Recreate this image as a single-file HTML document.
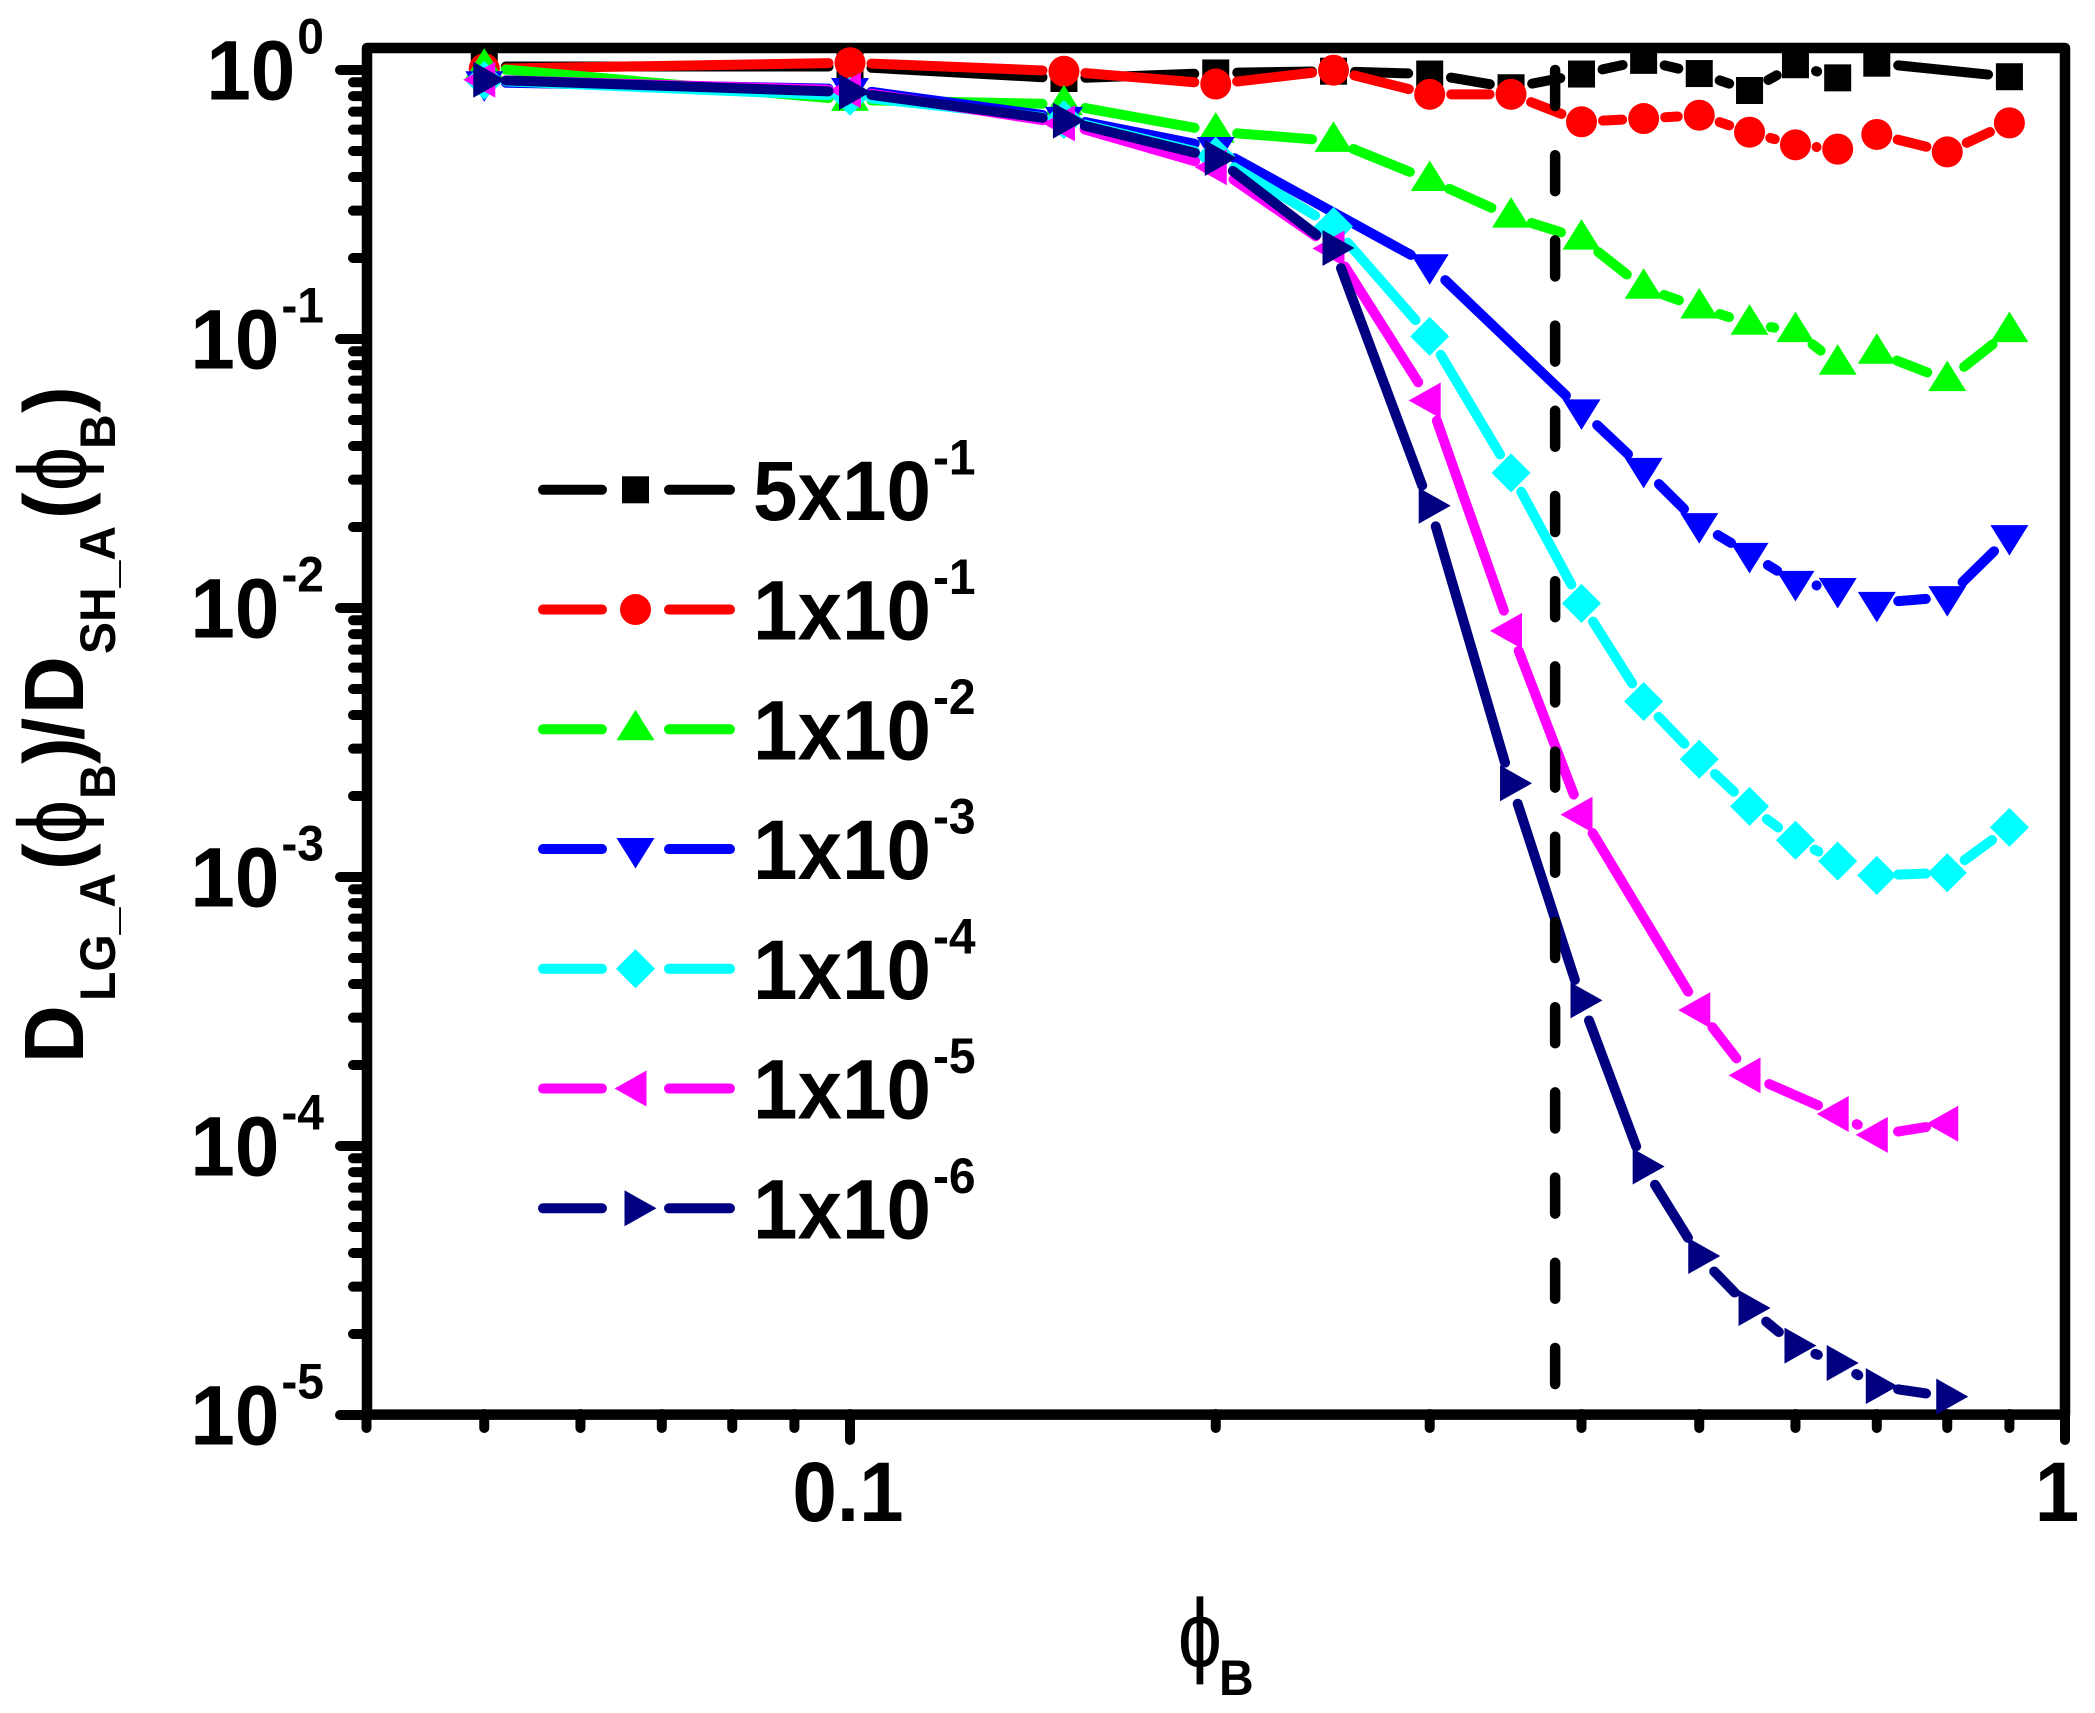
<!DOCTYPE html>
<html lang="en">
<head>
<meta charset="utf-8">
<title>Diffusion ratio versus phi B</title>
<style>
html,body{margin:0;padding:0;background:#fff;}
svg{display:block;}
text{font-family:"Liberation Sans",Arial,sans-serif;font-weight:bold;fill:#000;}
.phi{font-family:"DejaVu Serif","Liberation Serif",serif;font-weight:normal;stroke:#000;stroke-width:1.6px;}
</style>
</head>
<body>
<svg id="chart" xmlns="http://www.w3.org/2000/svg" width="2095" height="1713" viewBox="0 0 2095 1713">
  <rect x="0" y="0" width="2095" height="1713" fill="#fff"/>
  <g id="axes"></g>
  <g id="series"></g>
  <g id="legend"></g>
  <g>
    <text transform="translate(83,1063) rotate(-90) scale(1,1.05)" font-size="80">D</text>
    <text transform="translate(115,1001) rotate(-90) scale(1,1.05)" font-size="48">LG_A</text>
    <text transform="translate(83,870) rotate(-90) scale(1,1.05)" font-size="80">(</text>
    <text class="phi" transform="translate(84.5,822) rotate(-90) scale(.8,1.17)" font-size="76" text-anchor="middle">ϕ</text>
    <text transform="translate(115,799) rotate(-90) scale(1,1.05)" font-size="48">B</text>
    <text transform="translate(83,764) rotate(-90) scale(1,1.05)" font-size="80">)</text>
    <text transform="translate(83,740) rotate(-90) scale(1,1.05)" font-size="80">/</text>
    <text transform="translate(83,714) rotate(-90) scale(1,1.05)" font-size="80">D</text>
    <text transform="translate(115,654) rotate(-90) scale(1,1.05)" font-size="48">SH_A</text>
    <text transform="translate(83,519) rotate(-90) scale(1,1.05)" font-size="80">(</text>
    <text class="phi" transform="translate(84.5,469) rotate(-90) scale(.8,1.17)" font-size="76" text-anchor="middle">ϕ</text>
    <text transform="translate(115,449) rotate(-90) scale(1,1.05)" font-size="48">B</text>
    <text transform="translate(83,413) rotate(-90) scale(1,1.05)" font-size="80">)</text>
  </g>
  <g>
    <text class="phi" transform="translate(1200,1665) scale(.8,1.17)" font-size="76" text-anchor="middle">ϕ</text>
    <text transform="translate(1219,1695) scale(1,1.05)" font-size="48">B</text>
  </g>
</svg>
<script>
// Data
const phiValues = [0.05, 0.1, 0.15, 0.2, 0.25, 0.3, 0.35, 0.4, 0.45, 0.5, 0.55, 0.6, 0.65, 0.7, 0.8, 0.9];
const blackSeries = [1.03, 1.03, 0.93, 0.975, 0.99, 0.966, 0.859, 0.966, 1.086, 0.97, 0.839, 1.046, 0.935, 1.06, null, 0.944];
const redSeries = [1.01, 1.064, 0.989, 0.887, 0.998, 0.812, 0.812, 0.642, 0.66, 0.679, 0.587, 0.527, 0.508, 0.576, 0.496, 0.636];
const greenSeries = [1.02, 0.774, 0.746, 0.59, 0.545, 0.39, 0.285, 0.236, 0.155, 0.131, 0.114, 0.107, 0.0809, 0.0889, 0.0703, 0.107];
const blueSeries = [0.9, 0.85, 0.664, 0.513, null, 0.188, null, 0.0543, 0.0329, 0.0205, 0.0159, 0.0125, 0.01177, 0.01045, 0.01097, 0.0185];
const cyanSeries = [0.915, 0.80, 0.654, 0.478, 0.262, 0.1023, 0.0318, 0.0104, 0.00449, 0.00274, 0.00183, 0.00137, 0.001146, 0.001014, 0.001037, 0.00153];
const magentaSeries = [0.92, 0.84, 0.633, 0.435, 0.217, 0.0591, 0.00822, 0.001706, null, 0.00032, 0.000183, null, 0.0001315, 0.00011, 0.000121, null];
const navySeries = [0.92, 0.828, 0.648, 0.471, 0.218, 0.024, 0.00223, 0.000348, 0.0000839, 0.000039, 0.000025, 0.0000181, 0.0000156, 0.0000128, 0.0000117, null];

const seriesMantissas = ['5x10', '1x10', '1x10', '1x10', '1x10', '1x10', '1x10'];
const seriesExponents = ['-1', '-1', '-2', '-3', '-4', '-5', '-6'];

const xMajorTicks = [0.1, 1];
const xMajorLabels = ['0.1', '1'];
const xMinorTicks = [0.04, 0.05, 0.06, 0.07, 0.08, 0.09, 0.2, 0.3, 0.4, 0.5, 0.6, 0.7, 0.8, 0.9];
const yDecades = [0, -1, -2, -3, -4, -5];
const yMinorMultipliers = [2, 3, 4, 5, 6, 7, 8, 9];
const referencePhi = 0.3805;
const referenceRange = [1, 0.0000126];

const NS = 'http://www.w3.org/2000/svg';
const xPerDecade = 1215, xAtOne = 2065, yPerDecade = 269, yAtOne = 70;
function X(v) { return xAtOne + xPerDecade * Math.log10(v); }
function Y(v) { return yAtOne - yPerDecade * Math.log10(v); }

function make(tag, attrs, parent) {
  const el = document.createElementNS(NS, tag);
  for (const k in attrs) el.setAttribute(k, attrs[k]);
  parent.appendChild(el);
  return el;
}

const axes = document.getElementById('axes');
const seriesLayer = document.getElementById('series');
const legend = document.getElementById('legend');

const frame = make('rect', {x: 367, y: 48, width: 1698, height: 1366.6, fill: 'none', stroke: '#000', 'stroke-width': 10.5, 'stroke-linejoin': 'round'}, axes);



function tick(x1, y1, x2, y2, name) {
  const t = make('line', {x1: x1, y1: y1, x2: x2, y2: y2, stroke: '#000', 'stroke-width': 10, 'stroke-linecap': 'round'}, axes);
  
  
}

xMinorTicks.forEach(function (v) {
  tick(X(v), 1414, X(v), 1428, 'x-minor-tick');
});
xMajorTicks.forEach(function (v, i) {
  tick(X(v), 1414, X(v), 1440, 'x-major-tick');
  const label = make('text', {transform: 'translate(' + (X(v) - (v === 1 ? 8 : 2)) + ',1521) scale(1,1.05)', 'font-size': 80, 'text-anchor': 'middle'}, axes);
  
  
  label.textContent = xMajorLabels[i];
});
yDecades.forEach(function (d) {
  const base = Math.pow(10, d);
  tick(367, Y(base), 340, Y(base), 'y-major-tick');
  if (d > yDecades[yDecades.length - 1]) {
    yMinorMultipliers.forEach(function (m) {
      tick(367, Y(base * m / 10), 353, Y(base * m / 10), 'y-minor-tick');
    });
  }
  const label = make('text', {transform: 'translate(324,' + (Y(base) + 29.4) + ') scale(1,1.05)', 'font-size': 80, 'text-anchor': 'end'}, axes);
  
  
  const mant = make('tspan', {}, label);
  mant.textContent = '10';
  const exp = make('tspan', {dy: -43.5, dx: 2, 'font-size': 48}, label);
  exp.textContent = String(d);
});

function drawMarker(kind, cx, cy, color, parent) {
  let el;
  if (kind === 'square') {
    el = make('rect', {x: cx - 13.5, y: cy - 13.5, width: 27, height: 27, fill: color}, parent);
  } else if (kind === 'circle') {
    el = make('circle', {cx: cx, cy: cy, r: 15.5, fill: color}, parent);
  } else if (kind === 'up') {
    el = make('polygon', {points: [cx, cy - 19.5, cx + 19, cy + 11, cx - 19, cy + 11].join(' '), fill: color}, parent);
  } else if (kind === 'down') {
    el = make('polygon', {points: [cx, cy + 19.5, cx + 19, cy - 11, cx - 19, cy - 11].join(' '), fill: color}, parent);
  } else if (kind === 'diamond') {
    el = make('polygon', {points: [cx, cy - 19.5, cx + 19.5, cy, cx, cy + 19.5, cx - 19.5, cy].join(' '), fill: color}, parent);
  } else if (kind === 'left') {
    el = make('polygon', {points: [cx - 21, cy, cx + 11, cy - 18, cx + 11, cy + 18].join(' '), fill: color}, parent);
  } else {
    el = make('polygon', {points: [cx + 21, cy, cx - 11, cy - 18, cx - 11, cy + 18].join(' '), fill: color}, parent);
  }
  return el;
}

const seriesList = [
  {key: 'black', values: blackSeries, color: '#000000', kind: 'square'},
  {key: 'red', values: redSeries, color: '#ff0000', kind: 'circle'},
  {key: 'green', values: greenSeries, color: '#00ff00', kind: 'up'},
  {key: 'blue', values: blueSeries, color: '#0000ff', kind: 'down'},
  {key: 'cyan', values: cyanSeries, color: '#00ffff', kind: 'diamond'},
  {key: 'magenta', values: magentaSeries, color: '#ff00ff', kind: 'left'},
  {key: 'navy', values: navySeries, color: '#000080', kind: 'right'}
];

const gapShorten = 21.5;
seriesList.forEach(function (s, idx) {
  const group = make('g', {}, seriesLayer);
  
  
  const pts = [];
  phiValues.forEach(function (phi, i) {
    if (s.values[i] !== null) pts.push([X(phi), Y(s.values[i])]);
  });
  for (let i = 0; i < pts.length - 1; i++) {
    const dx = pts[i + 1][0] - pts[i][0], dy = pts[i + 1][1] - pts[i][1];
    const len = Math.hypot(dx, dy);
    if (len <= 42) continue;
    const cut = Math.min(gapShorten, len / 2 - 0.01);
    const ux = dx / len, uy = dy / len;
    const seg = make('line', {
      x1: pts[i][0] + ux * cut, y1: pts[i][1] + uy * cut,
      x2: pts[i + 1][0] - ux * cut, y2: pts[i + 1][1] - uy * cut,
      stroke: s.color, 'stroke-width': 10, 'stroke-linecap': 'round'
    }, group);
    
    
  }
  pts.forEach(function (p) {
    const m = drawMarker(s.kind, p[0], p[1], s.color, group);
    
    
  });

  const rowY = 489.8 + idx * 119.75;
  const entry = make('g', {}, legend);
  
  
  const l1 = make('line', {x1: 543, y1: rowY, x2: 602, y2: rowY, stroke: s.color, 'stroke-width': 10, 'stroke-linecap': 'round'}, entry);
  
  
  const l2 = make('line', {x1: 669, y1: rowY, x2: 730, y2: rowY, stroke: s.color, 'stroke-width': 10, 'stroke-linecap': 'round'}, entry);
  
  
  const lm = drawMarker(s.kind, 635.5, rowY, s.color, entry);
  
  
  const txt = make('text', {transform: 'translate(753,' + (rowY + 30) + ') scale(1,1.05)', 'font-size': 80}, entry);
  
  
  const t1 = make('tspan', {}, txt);
  t1.textContent = seriesMantissas[idx];
  const t2 = make('tspan', {dy: -43.3, dx: 2, 'font-size': 48}, txt);
  t2.textContent = seriesExponents[idx];
});

const refLine = make('line', {
  x1: X(referencePhi), y1: Y(referenceRange[0]), x2: X(referencePhi), y2: Y(referenceRange[1]),
  stroke: '#000', 'stroke-width': 10.5, 'stroke-linecap': 'round', 'stroke-dasharray': '36 49.2'
}, seriesLayer);


</script>
</body>
</html>
